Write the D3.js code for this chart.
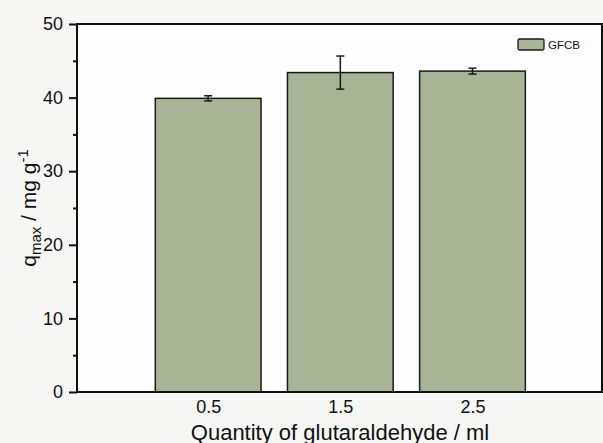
<!DOCTYPE html>
<html><head><meta charset="utf-8">
<script src="https://cdn.jsdelivr.net/npm/d3@7"></script>
<style>body{margin:0;background:#f6f6f5;}svg{display:block;} text{font-family:'Liberation Sans', Arial, sans-serif;}</style>
</head><body>
<script>
const categories = [0.5, 1.5, 2.5];
const tickLabels = ["0.5", "1.5", "2.5"];
const values = [39.9, 43.4, 43.6];
const errors = [0.35, 2.25, 0.4];
const yTicks = [0, 10, 20, 30, 40, 50];
const seriesName = "GFCB";

(function(){
const W = 603, H = 443;
const FF = "'Liberation Sans', Arial, sans-serif";
const svg = d3.select("body").append("svg").attr("width", W).attr("height", H);
svg.append("rect").attr("width", W).attr("height", H).attr("fill", "#f6f6f5");

const pL = 77, pR = 602, pT = 24, pB = 392;
const x = d3.scaleLinear().domain([-0.5, 3.48]).range([76, 602]);
const y = d3.scaleLinear().domain([0, 50]).range([pB, pT]);
const barW = x(0.8) - x(0);

svg.append("rect").attr("x", pL).attr("y", pT).attr("width", pR-pL).attr("height", pB-pT).attr("fill", "#fdfdfd");

svg.selectAll("rect.bar").data(values).enter().append("rect").attr("class","bar")
  .attr("x", (d,i)=>x(categories[i]) - barW/2)
  .attr("y", d=>y(d))
  .attr("width", barW)
  .attr("height", d=>y(0)-y(d))
  .attr("fill", "#a9b395").attr("stroke", "#1a1a1a").attr("stroke-width", 1.5);

const eg = svg.append("g").attr("stroke", "#1a1a1a").attr("stroke-width", 1.5);
values.forEach((v,i)=>{
  const cx = x(categories[i]);
  eg.append("line").attr("x1",cx).attr("x2",cx).attr("y1",y(v+errors[i])).attr("y2",y(v-errors[i]));
  [v+errors[i], v-errors[i]].forEach(e=>{
    eg.append("line").attr("x1",cx-4).attr("x2",cx+4).attr("y1",y(e)).attr("y2",y(e));
  });
});

svg.append("rect").attr("x", pL).attr("y", pT).attr("width", pR-pL).attr("height", pB-pT)
  .attr("fill","none").attr("stroke","#111").attr("stroke-width",2);

const yAxis = d3.axisLeft(y).tickValues(yTicks).tickSize(8).tickPadding(6).tickFormat(d3.format("d"));
const ya = svg.append("g").attr("transform",`translate(${pL},0)`).call(yAxis);
ya.select(".domain").remove();
ya.selectAll("line").attr("stroke","#111").attr("stroke-width",2);
ya.selectAll("text").attr("font-family",FF).attr("font-size",18).attr("fill","#111");
const minor = d3.axisLeft(y).tickValues([5,15,25,35,45]).tickSize(4).tickFormat("");
const ym = svg.append("g").attr("transform",`translate(${pL},0)`).call(minor);
ym.select(".domain").remove();
ym.selectAll("line").attr("stroke","#111").attr("stroke-width",2);

const xa = d3.axisBottom(x).tickValues(categories).tickSize(0).tickPadding(8).tickFormat((d,i)=>tickLabels[i]);
const xg = svg.append("g").attr("transform",`translate(0,${pB})`).call(xa);
xg.select(".domain").remove();
xg.selectAll("text").attr("font-family",FF).attr("font-size",18).attr("fill","#111");

svg.append("text").attr("x", 340).attr("y", 440).attr("text-anchor","middle")
  .attr("font-family",FF).attr("font-size",22).attr("fill","#111")
  .text("Quantity of glutaraldehyde / ml");

const yt = svg.append("text").attr("transform","translate(36,208) rotate(-90)").attr("text-anchor","middle")
  .attr("font-family",FF).attr("font-size",21).attr("fill","#111");
yt.append("tspan").text("q");
yt.append("tspan").attr("font-size",15).attr("dy",5).text("max");
yt.append("tspan").attr("dy",-5).text(" / mg g");
yt.append("tspan").attr("font-size",15).attr("dy",-8).text("-1");

svg.append("rect").attr("x",518).attr("y",39).attr("width",26).attr("height",11).attr("rx",1.5)
  .attr("fill","#a9b395").attr("stroke","#1a1a1a").attr("stroke-width",1.3);
svg.append("text").attr("x",548).attr("y",49).attr("font-family",FF)
  .attr("font-size",11.5).attr("fill","#111").text(seriesName);
})();
</script>
</body></html>
